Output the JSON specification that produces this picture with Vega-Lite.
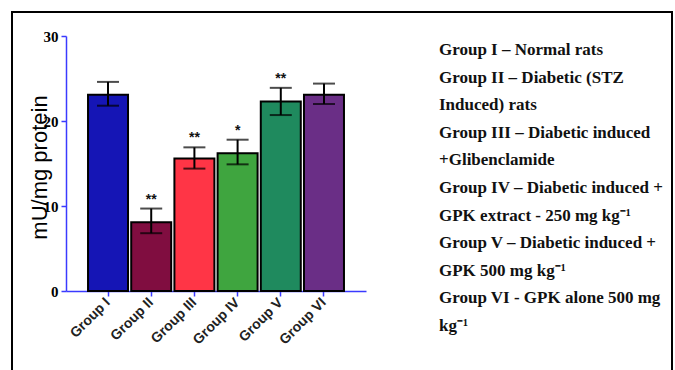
{
  "$schema": "https://vega.github.io/schema/vega-lite/v6.json",
  "autosize": {"type": "none"},
  "padding": {"left": 12, "top": 12, "right": 3, "bottom": -2},
  "width": 660,
  "height": 360,
  "background": "white",
  "config": {
    "view": {"stroke": "black", "strokeWidth": 2},
    "axis": {"grid": false}
  },
  "datasets": {
    "groups": [
      {"group": "Group I", "mean": 23.1, "lower": 21.8, "upper": 24.6, "sig": ""},
      {"group": "Group II", "mean": 8.1, "lower": 6.8, "upper": 9.7, "sig": "**"},
      {"group": "Group III", "mean": 15.6, "lower": 14.4, "upper": 16.9, "sig": "**"},
      {"group": "Group IV", "mean": 16.2, "lower": 14.9, "upper": 17.8, "sig": "*"},
      {"group": "Group V", "mean": 22.3, "lower": 20.7, "upper": 23.9, "sig": "**"},
      {"group": "Group VI", "mean": 23.1, "lower": 22.0, "upper": 24.4, "sig": ""}
    ],
    "notes": [
      {"line": 1, "text": "Group I – Normal rats"},
      {"line": 2, "text": "Group II – Diabetic (STZ"},
      {"line": 3, "text": "Induced) rats"},
      {"line": 4, "text": "Group III – Diabetic induced"},
      {"line": 5, "text": "+Glibenclamide"},
      {"line": 6, "text": "Group IV – Diabetic induced +"},
      {"line": 7, "text": "GPK extract - 250 mg kg⁻¹"},
      {"line": 8, "text": "Group V – Diabetic induced +"},
      {"line": 9, "text": "GPK 500 mg kg⁻¹"},
      {"line": 10, "text": "Group VI - GPK alone 500 mg"},
      {"line": 11, "text": "kg⁻¹"}
    ]
  },
  "layer": [
    {
      "data": {"name": "groups"},
      "encoding": {
        "x": {
          "field": "group",
          "type": "nominal",
          "sort": null,
          "scale": {"range": [54, 354], "paddingInner": 0.074, "paddingOuter": 0.51},
          "axis": {
            "offset": -81,
            "title": null,
            "labelAngle": -45,
            "labelAlign": "right",
            "labelBaseline": "middle",
            "labelFont": "Liberation Sans",
            "labelFontWeight": "bold",
            "labelFontSize": 14,
            "labelColor": "#222222",
            "labelPadding": 4,
            "domainColor": "#3a3aff",
            "domainWidth": 1.5,
            "tickColor": "#3a3aff",
            "tickWidth": 1.5,
            "tickSize": 5
          }
        }
      },
      "layer": [
        {
          "mark": {"type": "bar", "stroke": "black", "strokeWidth": 2},
          "encoding": {
            "y": {
              "field": "mean",
              "type": "quantitative",
              "title": "mU/mg protein",
              "scale": {"domain": [0, 30], "range": [279, 24], "nice": false},
              "axis": {
                "values": [0, 10, 20, 30],
                "offset": -54,
                "domainColor": "#3a3aff",
                "domainWidth": 1.5,
                "tickColor": "#3a3aff",
                "tickWidth": 1.5,
                "tickSize": 5,
                "labelFont": "Liberation Sans Narrow",
                "labelFontWeight": "bold",
                "labelFontSize": 15,
                "labelColor": "black",
                "labelPadding": 3,
                "titleFont": "Liberation Sans",
                "titleFontSize": 22,
                "titleFontWeight": "normal",
                "titleColor": "black",
                "titleX": -27,
                "titleY": 155,
                "titleAngle": -90,
                "titleAlign": "center",
                "titleBaseline": "middle"
              }
            },
            "color": {
              "field": "group",
              "type": "nominal",
              "scale": {
                "domain": ["Group I", "Group II", "Group III", "Group IV", "Group V", "Group VI"],
                "range": ["#1515b5", "#800d40", "#ff3546", "#3fa53f", "#1f8a5e", "#6a2e86"]
              },
              "legend": null
            }
          }
        },
        {
          "mark": {"type": "errorbar", "thickness": 2, "color": "black", "ticks": {"size": 22, "thickness": 2, "color": "black"}},
          "encoding": {
            "y": {"field": "lower", "type": "quantitative", "title": "mU/mg protein"},
            "y2": {"field": "upper"}
          }
        },
        {
          "mark": {"type": "text", "baseline": "bottom", "dy": -2, "fontSize": 14, "fontWeight": "bold", "font": "Liberation Sans", "color": "#111111"},
          "encoding": {
            "y": {"field": "upper", "type": "quantitative", "title": "mU/mg protein"},
            "text": {"field": "sig"}
          }
        }
      ]
    },
    {
      "data": {"name": "notes"},
      "mark": {"type": "text", "align": "left", "baseline": "middle", "font": "Liberation Serif", "fontWeight": "bold", "fontSize": 17, "color": "#111111"},
      "encoding": {
        "x": {"datum": 0, "type": "quantitative", "scale": {"domain": [0, 1], "range": [427, 660]}, "axis": null},
        "y": {"field": "line", "type": "quantitative", "scale": {"domain": [1, 11], "range": [38, 314]}, "axis": null},
        "text": {"field": "text"}
      }
    }
  ],
  "resolve": {"scale": {"x": "independent", "y": "independent"}}
}
